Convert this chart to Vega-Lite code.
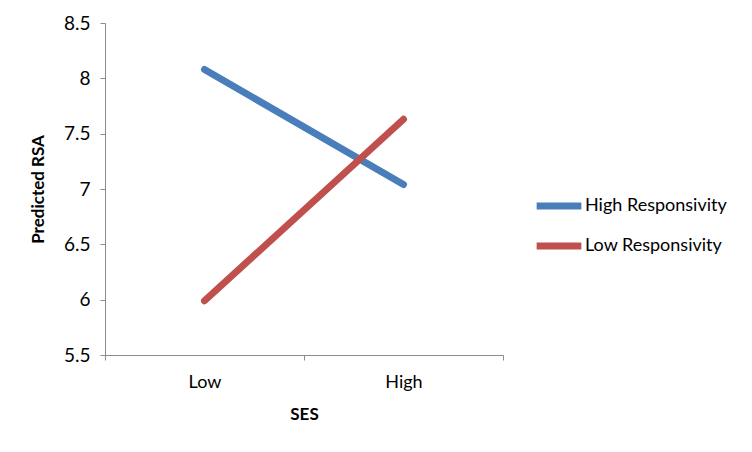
{
  "$schema": "https://vega.github.io/schema/vega-lite/v6.json",
  "autosize": "none",
  "width": 398,
  "height": 332,
  "padding": {"left": 105, "top": 23, "right": 249, "bottom": 97},
  "background": "white",
  "config": {
    "view": {"stroke": null},
    "font": "Lato",
    "axis": {"grid": false, "domainColor": "#8c8c8c", "tickColor": "#8c8c8c", "labelColor": "#000", "titleColor": "#000", "labelFont": "Lato", "titleFont": "Lato", "labelFontSize": 18, "titleFontSize": 17, "titleFontWeight": "bold"}
  },
  "data": {
    "values": [
      {"SES": "Low", "RSA": 8.08, "group": "High Responsivity"},
      {"SES": "High", "RSA": 7.04, "group": "High Responsivity"},
      {"SES": "Low", "RSA": 5.99, "group": "Low Responsivity"},
      {"SES": "High", "RSA": 7.63, "group": "Low Responsivity"}
    ]
  },
  "mark": {"type": "line", "strokeWidth": 7, "strokeCap": "round"},
  "encoding": {
    "x": {
      "field": "SES", "type": "nominal", "sort": ["Low", "High"],
      "scale": {"type": "band", "paddingInner": 0, "paddingOuter": 0},
      "axis": {"title": "SES", "labelAngle": 0, "tickBand": "extent", "tickSize": 5, "labelPadding": 13, "titlePadding": 15}
    },
    "y": {
      "field": "RSA", "type": "quantitative",
      "scale": {"domain": [5.5, 8.5], "nice": false, "zero": false},
      "axis": {"title": "Predicted RSA", "values": [5.5, 6, 6.5, 7, 7.5, 8, 8.5], "tickSize": 5, "labelPadding": 10, "titlePadding": 16, "format": "~g", "labelFontSize": 19}
    },
    "color": {
      "field": "group", "type": "nominal",
      "scale": {"domain": ["High Responsivity", "Low Responsivity"], "range": ["#4A7EBB", "#C0504D"]},
      "legend": {"title": null, "orient": "none", "legendX": 428, "legendY": 157, "symbolType": "stroke", "symbolSize": 2000, "symbolStrokeWidth": 7, "labelFontSize": 18, "labelFont": "Lato", "labelColor": "#000", "rowPadding": -11, "labelOffset": 0}
    }
  }
}
